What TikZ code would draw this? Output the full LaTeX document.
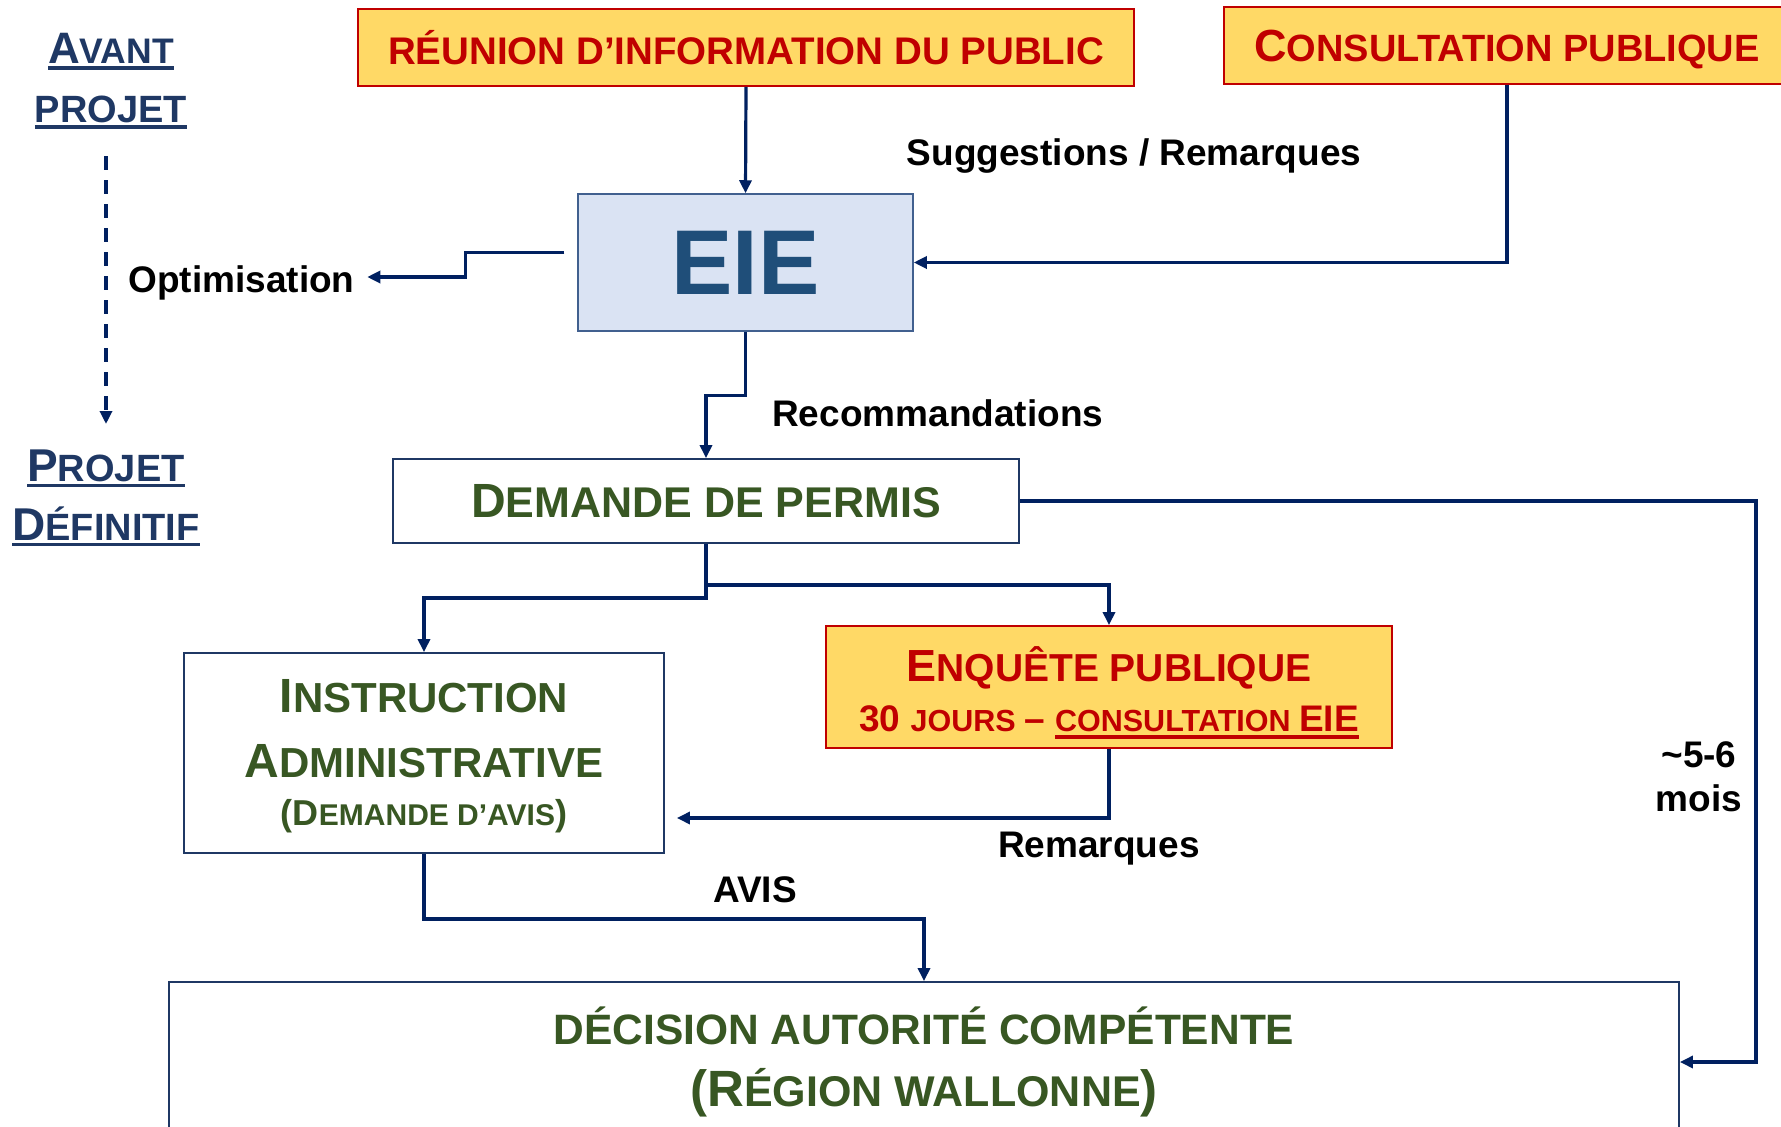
\documentclass[tikz,border=0pt]{standalone}
\usepackage{fontspec}
\setmainfont{Liberation Sans}
\usetikzlibrary{arrows.meta,calc}
\definecolor{navy}{HTML}{002060}
\definecolor{darknavy}{HTML}{1F3864}
\definecolor{redc}{HTML}{C00000}
\definecolor{yellowc}{HTML}{FFD966}
\definecolor{eiefill}{HTML}{DAE3F3}
\definecolor{eiedraw}{HTML}{41608F}
\definecolor{eietext}{HTML}{1F4E79}
\definecolor{greenc}{HTML}{385723}
\newcommand\fs[1]{\fontsize{#1}{#1}\selectfont}
\newcommand\myul[2][6pt]{\setbox0=\hbox{#2}\rlap{\rule[-#1]{\wd0}{3.5pt}}\box0}
\begin{document}
\begin{tikzpicture}[x=1pt,y=-1pt,font=\bfseries,
  ybox/.style={draw=redc,line width=1.8pt,fill=yellowc,text=redc,inner sep=0pt},
  wbox/.style={draw=darknavy,line width=1.8pt,fill=white,text=greenc,inner sep=0pt},
  eiebox/.style={draw=eiedraw,line width=1.5pt,fill=eiefill,text=eietext,inner sep=0pt},
  lbl/.style={text=black,inner sep=0pt,font=\bfseries\fs{37}},
  conn/.style={draw=navy,line width=3.2pt,-{Triangle[length=13pt,width=12pt]}},
  ttl/.style={text=darknavy,inner sep=0pt,align=center}]
\useasboundingbox (0,0) rectangle (1781,1127);
\clip (0,0) rectangle (1781,1127);

% boxes
\node[ybox,minimum width=776pt,minimum height=77pt] (reun) at (746,47.5) {\fs{38.5}RÉUNION D’INFORMATION DU PUBLIC};
\node[ybox,minimum width=566pt,minimum height=77pt,text depth=-4.5pt] (cons) at (1507,45.5) {{\fs{45}C}{\fs{38}ONSULTATION PUBLIQUE}};
\node[eiebox,minimum width=335pt,minimum height=137pt] (eie) at (745.5,262.5) {\fs{92}EIE};
\node[wbox,minimum width=626pt,minimum height=84pt] (dem) at (706,501) {\raisebox{-2pt}{{\fs{48}D}{\fs{43}EMANDE DE PERMIS}}};
\node[wbox,minimum width=480pt,minimum height=200pt] (instr) at (424,753) {};
\node[ybox,minimum width=566pt,minimum height=122pt] (enq) at (1109,687) {};
\node[wbox,minimum width=1510pt,minimum height=160pt] (dec) at (924,1062) {};

% multi-line box texts
\node[inner sep=0pt,text=greenc,align=center,font=\bfseries\fontsize{42}{65}\selectfont] (instrtxt) at (424,756)
  {{\fs{48}I}NSTRUCTION\\[0pt]{\fs{48}A}DMINISTRATIVE\\[-17pt]{\fs{36}(D}{\fs{30}EMANDE D’AVIS}{\fs{36})}};
\node[inner sep=0pt,text=redc,align=center,font=\bfseries\fontsize{39}{50}\selectfont] (enqtxt) at (1109,693)
  {{\fs{45}E}NQUÊTE PUBLIQUE\\{\fs{37}30 }{\fs{30.5}JOURS }{\fs{37}– }\myul[7pt]{{\fs{30.5}CONSULTATION }{\fs{37}EIE}}};
\node[inner sep=0pt,text=greenc,align=center,font=\bfseries\fontsize{42.5}{62}\selectfont] (dectxt) at (924,1062)
  {DÉCISION AUTORITÉ COMPÉTENTE\\{\fs{51}(R}{\fs{43}ÉGION WALLONNE}{\fs{51})}};

% left titles
\node[ttl,font=\bfseries\fontsize{38}{59}\selectfont] (avant) at (111,81)
  {\myul{{\fs{44}A}{\fs{35.5}VANT}}\\\myul{PROJET}};
\node[ttl,font=\bfseries\fontsize{38}{59}\selectfont] (projdef) at (106,498)
  {\myul{{\fs{46}P}ROJET}\\\myul{{\fs{46}D}ÉFINITIF}};

% labels
\node[lbl] (sugg) at (1134,156.5) {Suggestions / Remarques};
\node[lbl,inner xsep=12.5pt] (opt) at (241.5,283) {Optimisation};
\node[lbl,anchor=west] (recom) at (772,413) {Recommandations};
\node[lbl] (rem) at (1099,848.5) {Remarques};
\node[lbl] (avis) at (755,890) {AVIS};
\node[lbl,align=center,font=\bfseries\fontsize{37}{44}\selectfont] (mois) at (1699,777) {\textasciitilde5-6\\mois};

% coordinates for free ends
\coordinate (optstart) at ([xshift=-13pt,yshift=10pt]eie.west);
\coordinate (enqin) at ([xshift=12pt,yshift=-65pt]instr.east);
\coordinate (dtop) at (106,156);
\coordinate (dbot) at (106,424);

% connectors
\draw[conn] (reun.south) -- (eie.north);
\draw[conn] (cons.south) |- (eie.east);
\draw[conn] (optstart) -- ++(-99,0) |- ([yshift=6pt]opt.east);
\draw[conn] (eie.south) -- ++(0,64) -| (dem.north);
\draw[conn] (dem.south) -- ++(0,54) -| (instr.north);
\draw[conn] (dem.south) -- ++(0,41) -| (enq.north);
\draw[conn] (dem.east) -- ++(736,0) |- (dec.east);
\draw[conn] (enq.south) |- (enqin);
\draw[conn] (instr.south) -- ++(0,65) -| (dec.north);
\draw[conn,dash pattern=on 14pt off 10pt] (dtop) -- (dbot);
\end{tikzpicture}
\end{document}
